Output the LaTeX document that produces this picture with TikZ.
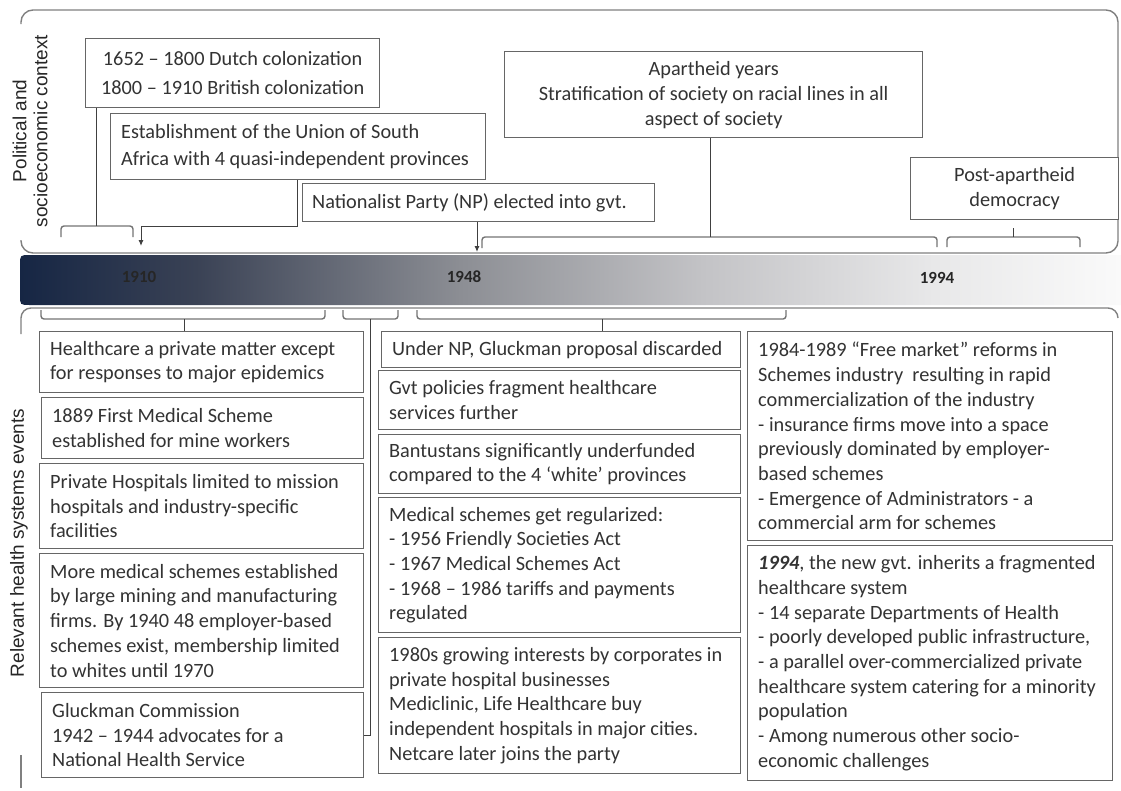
\documentclass[tikz,border=0pt]{standalone}
\usepackage{fontspec}
\setmainfont{Carlito}
\newfontfamily\labelfont{Liberation Sans}
\usetikzlibrary{arrows.meta}

% timeline bar colours, navy on the left fading to white on the right
\definecolor{barA}{RGB}{22,38,68}
\definecolor{barB}{RGB}{58,66,85}
\definecolor{barC}{RGB}{140,142,148}
\definecolor{barD}{RGB}{195,195,198}
\definecolor{barE}{RGB}{232,232,233}
\definecolor{barF}{RGB}{250,250,250}
\pgfdeclarehorizontalshading{barshade}{100bp}{color(0bp)=(barA); color(25bp)=(barA); color(33bp)=(barB); color(45bp)=(barC); color(56bp)=(barD); color(66.5bp)=(barE); color(75bp)=(barF); color(100bp)=(barF)}

% a framed event box: name, x, y (top left), width, height, text
\newcommand\eventbox[6]{%
  \node[frame, minimum width=#4pt, minimum height=#5pt] (#1) at (#2,#3) {};
  \node[txt, anchor=west] (#1-t) at ([xshift=11pt]#1.west) {#6};}
% the same with centred lines
\newcommand\centrebox[7]{%
  \node[frame, minimum width=#4pt, minimum height=#5pt] (#1) at (#2,#3) {};
  \node[txt, align=center, font=\fontsize{20.3}{#7}\selectfont] (#1-t) at (#1.center) {#6};}

\begin{document}
\begin{tikzpicture}[x=1pt,y=-1pt,
  frame/.style={draw=black!60, line width=1.3pt, fill=white, inner sep=0pt, anchor=north west},
  txt/.style={font=\fontsize{20.3}{24.7}\selectfont, text=black!80, inner sep=0pt, align=left},
  cont/.style={draw=black!50, line width=1.4pt},
  link/.style={draw=black!75, line width=1pt},
  arr/.style={link, -{Latex[length=6pt,width=5pt]}},
  brace/.style={draw=black!55, line width=1.4pt, rounded corners=3pt},
  year/.style={font=\bfseries\fontsize{17}{17}\selectfont, text=black!85, inner sep=0pt},
  side/.style={font=\labelfont\fontsize{19}{21}\selectfont, text=black!85, rotate=90, align=center, inner sep=0pt}]
\useasboundingbox (0,0) rectangle (1121,790);

% upper and lower frames
\draw[cont, rounded corners=12pt] (21,24) -- (21,10) -- (1118,10) -- (1118,253) -- (21,253) -- (21,240);
\draw[cont, rounded corners=10pt] (21,334) -- (21,308) -- (1118,308) -- (1118,318);
\draw[cont] (21,755) -- (21,788);

% timeline bar
\shade[shading=barshade] (1121,255) -- (30,255) .. controls (20,255) .. (20,265) -- (20,295) .. controls (20,305) .. (30,305) -- (1121,305) -- cycle;
\node[year] (y1910) at (139,277) {1910};
\node[year] (y1948) at (464,277) {1948};
\node[year] (y1994) at (937,278) {1994};

% side headings
\node[side] (pol) at (30,131) {Political and\\socioeconomic context};
\node[side] (rel) at (19,543) {Relevant health systems events};

% political events
\centrebox{colon}{85}{38}{294}{69}{1652 -- 1800 Dutch colonization\\1800 -- 1910 British colonization}{29.5}
\eventbox{union}{110}{113}{375}{66}{Establishment of the Union of South\\[2.3pt]Africa with 4 quasi-independent provinces}
\node[frame, minimum width=352pt, minimum height=38pt] (np) at (302,183) {};
\node[txt, anchor=west] (np-t) at ([xshift=10pt]np.west) {Nationalist Party (NP) elected into gvt.};
\centrebox{apart}{504}{51}{418}{86}{Apartheid years\\Stratification of society on racial lines in all\\aspect of society}{25}
\centrebox{post}{910}{157}{208}{62}{Post-apartheid\\democracy}{25}

% brackets and pointers above the bar
\coordinate (c1) at (96,226);
\draw[brace] (61,237) -- (61,226) -- (133,226) -- (133,237);
\draw[link] (colon.south -| c1) -- (c1);
\coordinate (uturn) at (297,226);
\coordinate (t1910) at (141,246);
\draw[arr] (union.south -| uturn) -- (uturn) -| (t1910);
\coordinate (t1948) at (477,252);
\draw[arr] (np.south -| t1948) -- (t1948);
\coordinate (c3) at (710,237);
\draw[brace] (482,248) -- (482,237) -- (937,237) -- (937,247);
\draw[link] (apart.south -| c3) -- (c3);
\coordinate (c4) at (1013,237);
\coordinate (c4t) at (1013,228);
\draw[brace] (947,247) -- (947,237) -- (1080,237) -- (1080,247);
\draw[link] (c4) -- (c4t);

% health system events
\eventbox{h1}{39}{331}{324}{61}{Healthcare a private matter except\\for responses to major epidemics}
\eventbox{h2}{41}{397}{322}{61}{1889 First Medical Scheme\\established for mine workers}
\eventbox{h3}{39}{463}{324}{85}{Private Hospitals limited to mission\\hospitals and industry-specific\\facilities}
\eventbox{h4}{39}{553}{324}{134}{More medical schemes established\\by large mining and manufacturing\\firms. By 1940 48 employer-based\\schemes exist, membership limited\\to whites until 1970}
\eventbox{h5}{41}{692}{322}{85}{Gluckman Commission\\1942 -- 1944 advocates for a\\National Health Service}

\eventbox{u1}{381}{331}{359}{36}{Under NP, Gluckman proposal discarded}
\eventbox{u2}{378}{370}{362}{59}{Gvt policies fragment healthcare\\services further}
\eventbox{u3}{378}{434}{362}{59}{Bantustans significantly underfunded\\compared to the 4 ‘white’ provinces}
\eventbox{u4}{378}{497}{362}{135}{Medical schemes get regularized:\\- 1956 Friendly Societies Act\\- 1967 Medical Schemes Act\\- 1968 -- 1986 tariffs and payments\\regulated}
\eventbox{u5}{378}{637}{362}{136}{1980s growing interests by corporates in\\private hospital businesses\\Mediclinic, Life Healthcare buy\\independent hospitals in major cities.\\Netcare later joins the party}

\eventbox{r1}{747}{331}{365}{209}{1984-1989 “Free market” reforms in\\Schemes industry~ resulting in rapid\\commercialization of the industry\\- insurance firms move into a space\\previously dominated by employer-\\based schemes\\- Emergence of Administrators - a\\commercial arm for schemes}
\eventbox{r2}{747}{545}{365}{235}{\textbf{\textit{1994}}, the new gvt. inherits a fragmented\\healthcare system\\- 14 separate Departments of Health\\- poorly developed public infrastructure,\\- a parallel over-commercialized private\\healthcare system catering for a minority\\population\\- Among numerous other socio-\\economic challenges}

% brackets below the bar
\coordinate (d1) at (184,319);
\draw[brace] (41,310) -- (41,319) -- (325,319) -- (325,310);
\draw[link] (d1) -- (h1.north -| d1);
\coordinate (d2) at (370,319);
\coordinate (d2b) at (370,735);
\draw[brace] (343,310) -- (343,319) -- (398,319) -- (398,310);
\draw[link] (d2) -- (d2b) -- (h5.east |- d2b);
\coordinate (d3) at (602,319);
\draw[brace] (417,310) -- (417,319) -- (786,319) -- (786,310);
\draw[link] (d3) -- (u1.north -| d3);
\end{tikzpicture}
\end{document}
